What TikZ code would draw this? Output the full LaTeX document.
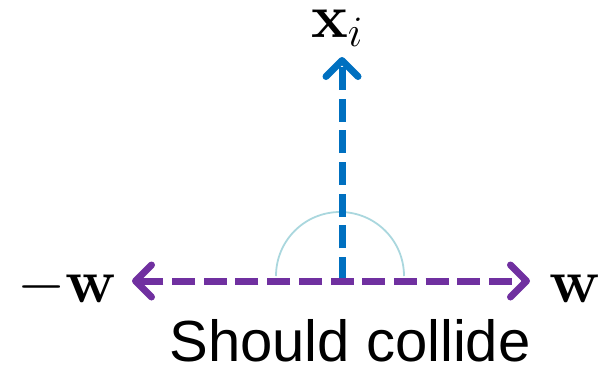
\documentclass[tikz,border=0pt]{standalone}
\usepackage{fix-cm}
\usepackage[no-math]{fontspec}
\setmainfont{Liberation Sans}
\usetikzlibrary{arrows.meta}
\definecolor{vecpurple}{RGB}{112,48,160}
\definecolor{vecblue}{RGB}{0,112,192}
\definecolor{anglecol}{RGB}{170,215,222}
\tikzset{
  vecline/.style={line width=7pt, dash pattern=on 23pt off 8.7pt,
    -{Straight Barb[length=16pt, width=32pt, round]}},
  hvec/.style={vecline, vecpurple, dash phase=11.5pt},
  vvec/.style={vecline, vecblue},
  anglearc/.style={anglecol, line width=1.8pt},
  mathlabel/.style={inner sep=0pt, anchor=base, font=\fontsize{62}{62}\selectfont},
  caption/.style={inner sep=0pt, anchor=base, font=\fontsize{58}{58}\selectfont}
}
\begin{document}
\begin{tikzpicture}[x=1pt, y=-1pt]
  \useasboundingbox (0,0) rectangle (604,368);
  % origin and vector tips
  \coordinate (o) at (342,281);
  \coordinate (wr) at (530,281);
  \coordinate (wl) at (132,281);
  \coordinate (xt) at (342,57);
  % angle marker between x_i and the w axis
  \draw[anglearc] (404,276) arc[start angle=0, end angle=-180, radius=64];
  % vectors
  \draw[vvec] (342,280) -- (xt);
  \draw[hvec] (o) -- (wr);
  \draw[hvec] (o) -- (wl);
  % labels
  \node[mathlabel] (lxi) at (337,37) {$\mathbf{x}_i$};
  \node[mathlabel] (lw) at (575,302) {$\mathbf{w}$};
  \node[mathlabel] (lmw) at (67,302) {$-\mathbf{w}$};
  \node[caption] (cap) at (350,361) {Should collide};
\end{tikzpicture}
\end{document}
